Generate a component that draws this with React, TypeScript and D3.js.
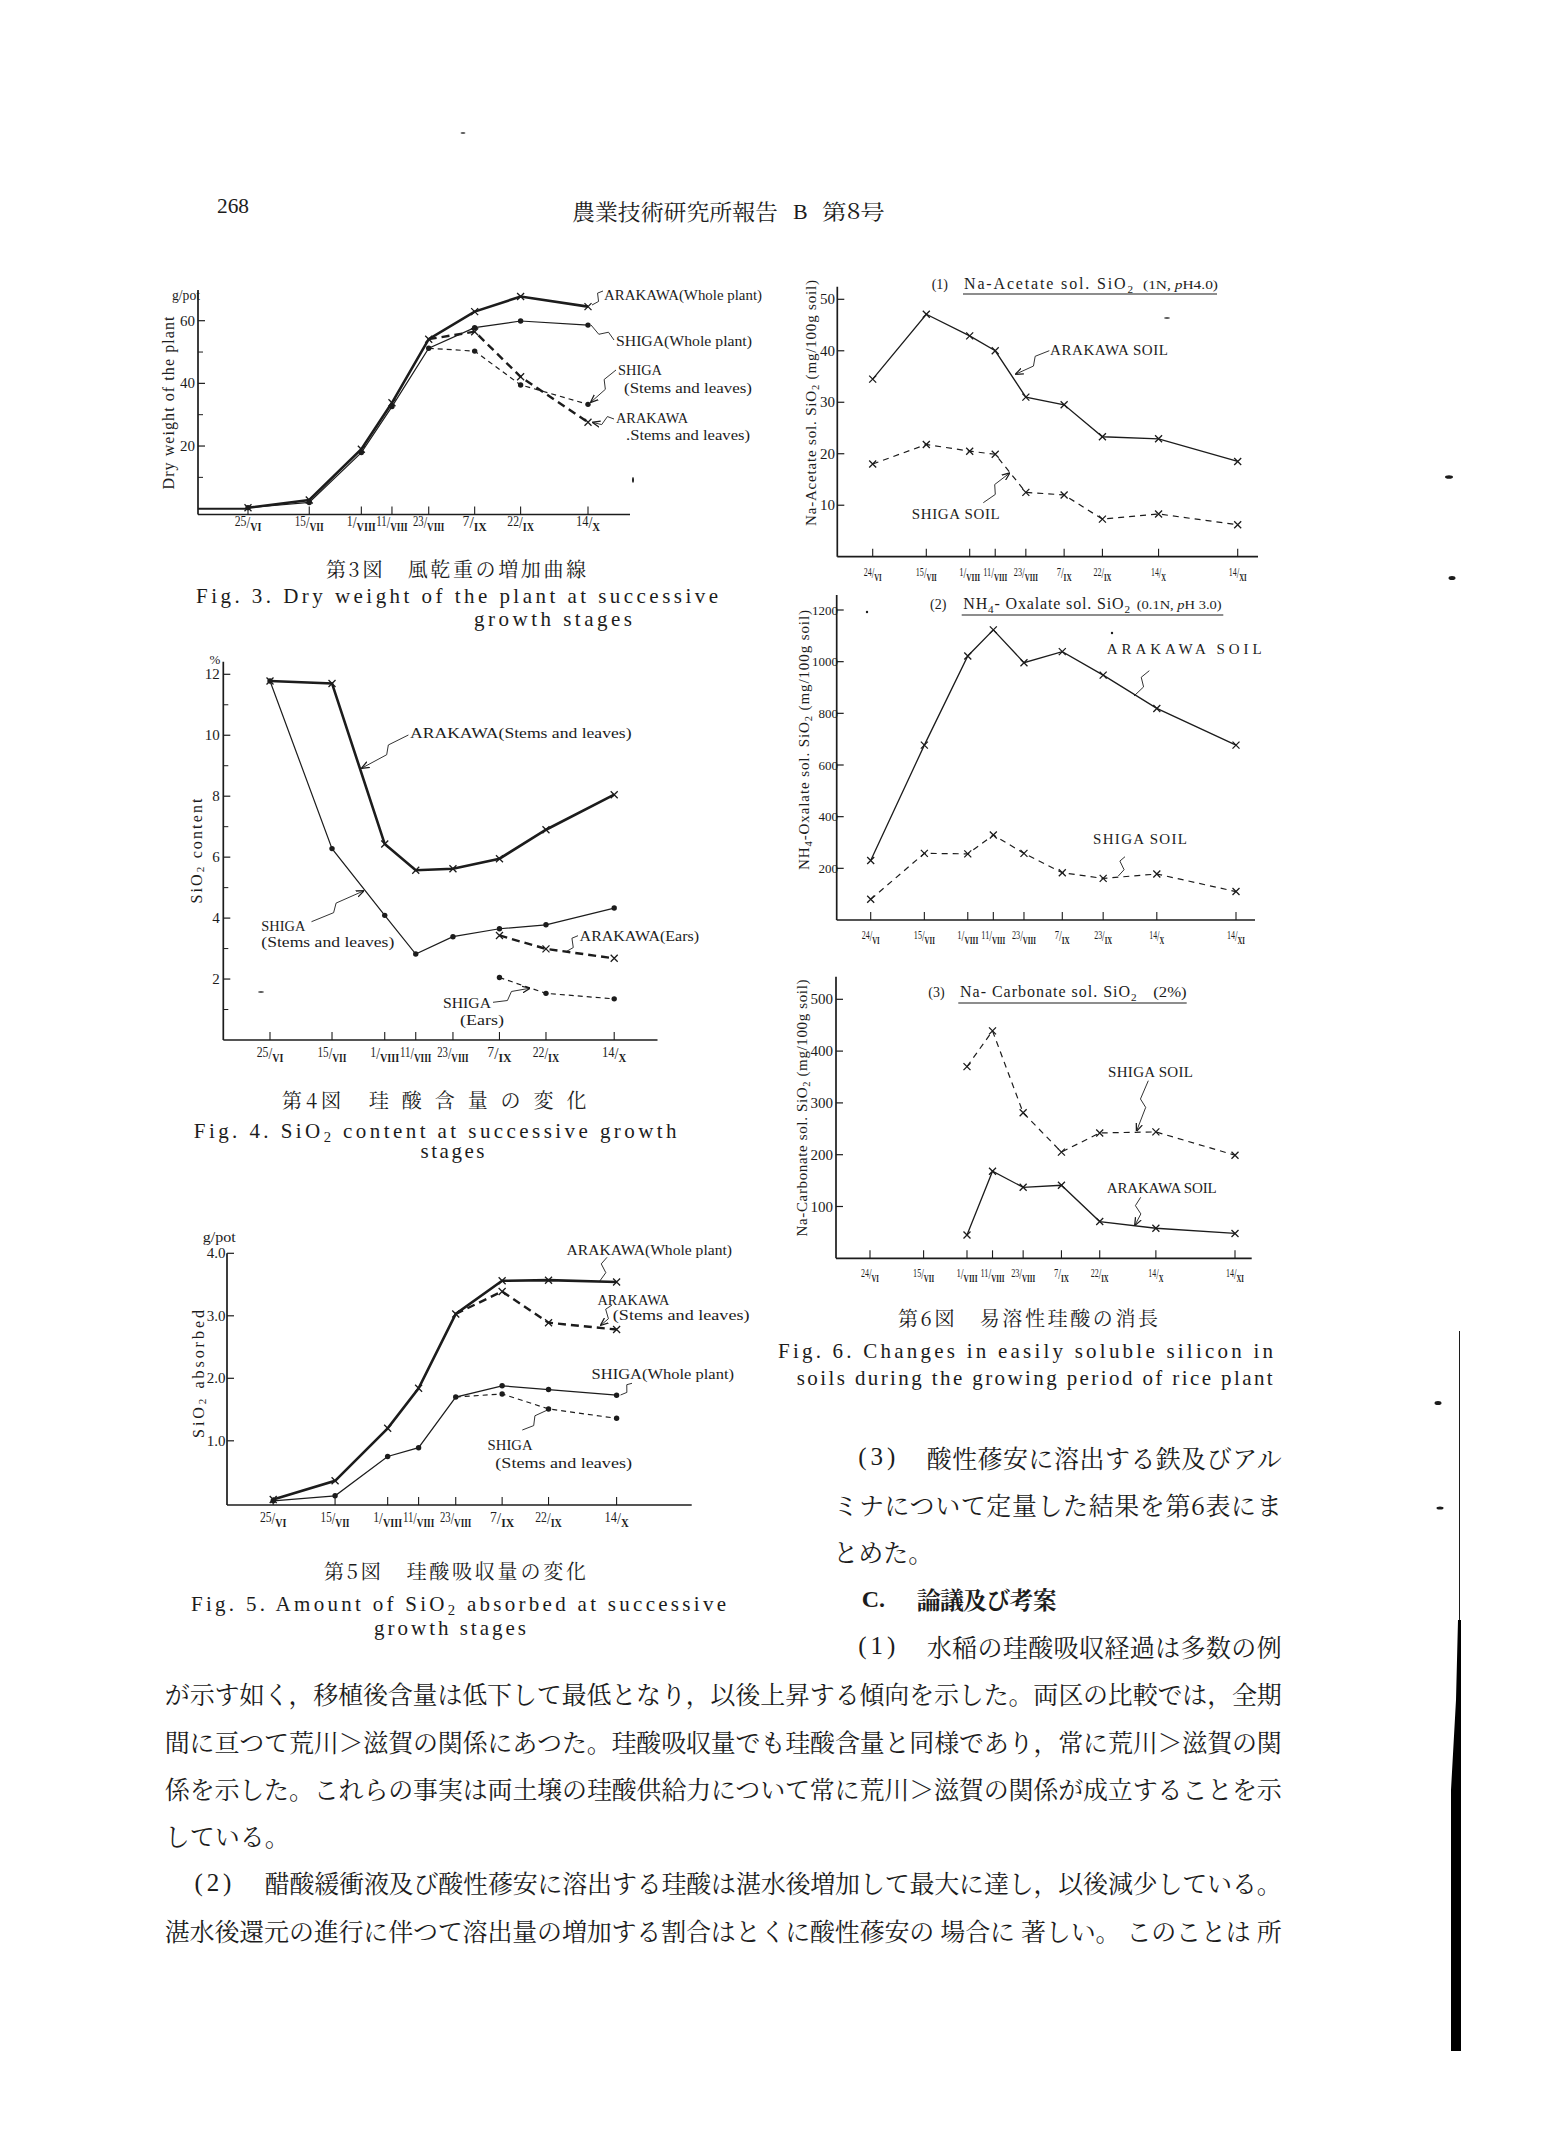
import React from "react";
import * as d3 from "d3";

const SERIF = '"Liberation Serif", "DejaVu Serif", serif';
const CJK = '"Noto Serif CJK JP", "Noto Sans CJK JP", "Noto Sans CJK SC", sans-serif';
const INK = "#1c1c1c";

const day = d3.timeParse("%d/%m/%Y");

// sampling dates of the plant (Fig. 3, 4, 5)
const plantDates = ["25/06/1954", "15/07/1954", "01/08/1954", "11/08/1954", "23/08/1954", "07/09/1954", "22/09/1954", "14/10/1954"];
const plantTicks = [["25", "VI"], ["15", "VII"], ["1", "VIII"], ["11", "VIII"], ["23", "VIII"], ["7", "IX"], ["22", "IX"], ["14", "X"]];

// Fig. 3 dry weight, g/pot
const f3ArakawaWhole = [0.3, 2.8, 19.0, 33.8, 54.1, 62.9, 67.7, 64.5];
const f3ShigaWhole = [0.3, 2.0, 17.9, 32.6, 51.2, 57.8, 59.9, 58.6];
const f3ShigaStems = [null, null, null, null, 51.2, 50.3, 39.5, 33.3];
const f3ArakawaStems = [null, null, null, null, 54.1, 56.5, 42.1, 27.6];
const f3Ticks = [20, 40, 60];
const f3Minor = [10, 30, 50];

// Fig. 4 SiO2 content, %
const f4ArakawaStems = [11.78, 11.7, 6.43, 5.57, 5.62, 5.95, 6.9, 8.05];
const f4ShigaStems = [11.78, 6.28, 4.09, 2.82, 3.39, 3.65, 3.78, 4.33];
const f4ArakawaEars = [null, null, null, null, null, 3.43, 2.99, 2.68];
const f4ShigaEars = [null, null, null, null, null, 2.05, 1.53, 1.35];
const f4Ticks = [2, 4, 6, 8, 10, 12];
const f4Minor = [1, 3, 5, 7, 9, 11];

// Fig. 5 SiO2 absorbed, g/pot
const f5ArakawaWhole = [0.06, 0.36, 1.2, 1.84, 3.03, 3.56, 3.57, 3.54];
const f5ArakawaStems = [null, null, null, null, 3.03, 3.39, 2.89, 2.78];
const f5ShigaWhole = [0.04, 0.12, 0.75, 0.89, 1.7, 1.88, 1.82, 1.73];
const f5ShigaStems = [null, null, null, null, 1.7, 1.75, 1.51, 1.36];
const f5Ticks = [1, 2, 3, 4];

// soil sampling dates (Fig. 6)
const soilDates = ["24/06/1954", "15/07/1954", "01/08/1954", "11/08/1954", "23/08/1954", "07/09/1954", "22/09/1954", "14/10/1954", "14/11/1954"];
const soilDates2 = ["24/06/1954", "15/07/1954", "01/08/1954", "11/08/1954", "23/08/1954", "07/09/1954", "23/09/1954", "14/10/1954", "14/11/1954"];
const soilTicks = [["24", "VI"], ["15", "VII"], ["1", "VIII"], ["11", "VIII"], ["23", "VIII"], ["7", "IX"], ["22", "IX"], ["14", "X"], ["14", "XI"]];
const soilTicks2 = [["24", "VI"], ["15", "VII"], ["1", "VIII"], ["11", "VIII"], ["23", "VIII"], ["7", "IX"], ["23", "IX"], ["14", "X"], ["14", "XI"]];

// (1) Na-acetate soluble SiO2, mg/100g soil
const f6aArakawa = [34.5, 47.1, 42.9, 40.0, 31.0, 29.5, 23.3, 22.9, 18.5];
const f6aShiga = [18.0, 21.8, 20.5, 19.9, 12.5, 12.0, 7.3, 8.3, 6.2];
const f6aTicks = [10, 20, 30, 40, 50];
// (2) NH4-oxalate soluble SiO2
const f6bArakawa = [230, 677, 1022, 1123, 996, 1039, 948, 819, 677];
const f6bShiga = [80, 258, 256, 329, 258, 183, 161, 178, 110];
const f6bTicks = [200, 400, 600, 800, 1000, 1200];
// (3) Na-carbonate soluble SiO2
const f6cShiga = [null, null, 370, 439, 281, 205, 242, 244, 199];
const f6cArakawa = [null, null, 45, 168, 137, 141, 71, 58, 48];
const f6cTicks = [100, 200, 300, 400, 500];

const STYLE: any = {
  thick: { w: 2.6, dash: undefined },
  thin: { w: 1.2, dash: undefined },
  thickDash: { w: 2.4, dash: "8 5" },
  thinDash: { w: 1.2, dash: "5 4" },
  soil: { w: 1.3, dash: undefined },
  soilDash: { w: 1.2, dash: "6 5" },
};

function T({ x, y, s = 15, len, a, f = SERIF, w, c, sp, children }: any) {
  return (
    <text
      x={x}
      y={y}
      fontSize={s}
      fontFamily={f}
      fontWeight={w}
      textAnchor={a}
      fill={INK}
      dominantBaseline={c ? "central" : undefined}
      textLength={len}
      lengthAdjust={len ? (sp ? "spacing" : "spacingAndGlyphs") : undefined}
    >
      {children}
    </text>
  );
}

function RT({ cx, cy, s = 16, len, children }: any) {
  return (
    <text
      transform={`translate(${cx},${cy}) rotate(-90)`}
      textAnchor="middle"
      dominantBaseline="central"
      fontSize={s}
      fontFamily={SERIF}
      fill={INK}
      textLength={len}
      lengthAdjust="spacing"
    >
      {children}
    </text>
  );
}

// alternating plain / subscript pieces: ["SiO", "2", " content"]
function chem(parts: string[]) {
  return parts.map((t, i) =>
    i % 2 === 1 ? (
      <tspan key={i} fontSize="70%" dy={4}>{t}</tspan>
    ) : (
      <tspan key={i} dy={i === 0 ? 0 : -4}>{t}</tspan>
    )
  );
}

function leader(x1: number, y1: number, x2: number, y2: number) {
  const dx = x2 - x1, dy = y2 - y1;
  const L = Math.hypot(dx, dy);
  const ux = dx / L, uy = dy / L, nx = -uy, ny = ux;
  const mx = x1 + dx * 0.45, my = y1 + dy * 0.45;
  const k = Math.min(3.5, L / 6);
  return `M${x1},${y1} L${mx - ux * k + nx * k},${my - uy * k + ny * k} L${mx + ux * k - nx * k},${my + uy * k - ny * k} L${x2},${y2}`;
}

function Lead({ p, arrow }: any) {
  return (
    <path
      d={leader(p[0], p[1], p[2], p[3])}
      fill="none"
      stroke={INK}
      strokeWidth={0.9}
      markerEnd={arrow ? "url(#arr)" : undefined}
    />
  );
}

function Panel(p: any) {
  const dates = p.dates.map((d: string) => day(d) as Date);
  const x = d3.scaleTime().domain([dates[0], dates[dates.length - 1]]).range(p.xPx);
  const y = d3.scaleLinear().domain([0, p.yRef]).range(p.yPx);
  const ax = p.axis;
  const fmt = p.fmt || ((v: number) => String(v));
  const ts = p.tickSize || 14;
  const lenOf = p.tickLen || ((n: string, r: string) => 17 + 2.4 * (n.length + r.length));
  return (
    <g>
      <line x1={ax.left} y1={ax.top} x2={ax.left} y2={ax.bottom} stroke={INK} strokeWidth={1.7} />
      <line x1={ax.left} y1={ax.bottom} x2={ax.right} y2={ax.bottom} stroke={INK} strokeWidth={1.7} />
      {p.zero && (
        <line x1={ax.left} y1={y(0)} x2={x(dates[0])} y2={y(0)} stroke={INK} strokeWidth={2} />
      )}
      {p.yTicks.map((v: number) => (
        <g key={"t" + v}>
          <line x1={ax.left} x2={ax.left + 7} y1={y(v)} y2={y(v)} stroke={INK} strokeWidth={1.2} />
          <T x={p.yLabelX} y={y(v)} s={p.yLabelSize || 15} a="end" c>
            {fmt(v)}
          </T>
        </g>
      ))}
      {(p.minor || []).map((v: number) => (
        <line key={"m" + v} x1={ax.left} x2={ax.left + 5} y1={y(v)} y2={y(v)} stroke={INK} strokeWidth={1} />
      ))}
      {dates.map((d: Date, i: number) => {
        const tx = x(d);
        const [n, r] = p.ticks[i];
        return (
          <g key={"x" + i}>
            <line x1={tx} x2={tx} y1={ax.bottom} y2={ax.bottom - 8} stroke={INK} strokeWidth={1.1} />
            <text
              x={tx}
              y={p.tickLabelY}
              textAnchor="middle"
              fontFamily={SERIF}
              fill={INK}
              fontSize={ts}
              textLength={lenOf(n, r)}
              lengthAdjust="spacingAndGlyphs"
            >
              <tspan dy={-5}>{n}</tspan>
              <tspan dy={2} fontSize={ts + 2}>/</tspan>
              <tspan dy={3} fontWeight="bold" fontSize={ts - 2}>{r}</tspan>
            </text>
          </g>
        );
      })}
      {p.series.map((s: any, si: number) => {
        const st = STYLE[s.style];
        const pts = dates.map((d: Date, i: number) => [d, s.values[i]] as [Date, number | null]);
        const line = d3
          .line<[Date, number | null]>()
          .defined((q) => q[1] != null)
          .x((q) => x(q[0]))
          .y((q) => y(q[1] as number));
        const shown = pts.filter((q, i) => q[1] != null && (s.from == null || i >= s.from));
        return (
          <g key={"s" + si}>
            <path d={line(pts) || ""} fill="none" stroke={INK} strokeWidth={st.w} strokeDasharray={st.dash} />
            {shown.map((q, i) => {
              const cx = x(q[0]);
              const cy = y(q[1] as number);
              return s.marker === "x" ? (
                <path
                  key={i}
                  d={`M${cx - 3.5},${cy - 3.5}L${cx + 3.5},${cy + 3.5}M${cx - 3.5},${cy + 3.5}L${cx + 3.5},${cy - 3.5}`}
                  stroke={INK}
                  strokeWidth={1.3}
                />
              ) : (
                <circle key={i} cx={cx} cy={cy} r={2.7} fill={INK} />
              );
            })}
          </g>
        );
      })}
    </g>
  );
}

const specks = [
  [463, 133, 2.5, 0.8],
  [633, 480, 1, 3],
  [261, 992, 3, 0.8],
  [1167, 318, 3, 0.8],
  [867, 612, 1.2, 1.2],
  [1112, 633, 1.2, 1.2],
  [1449, 477, 4, 1.8],
  [1452, 578, 3.5, 2],
  [1438, 1403, 3.5, 2],
  [1440, 1508, 3.5, 1.5],
];

const soilTickLen = (n: string, r: string) => 6 + 3 * (n.length + r.length);

export default function App() {
  const bodyLeft = 164.8;
  const bodyLen = 1117;
  return (
    <svg
      width={1547}
      height={2138}
      viewBox="0 0 1547 2138"
      style={{ position: "absolute", left: 0, top: 0, background: "#fff" }}
    >
      <defs>
        <marker id="arr" viewBox="0 0 10 10" refX={9} refY={5} markerWidth={8} markerHeight={8} markerUnits="userSpaceOnUse" orient="auto">
          <path d="M0,1 L10,5 L0,9" fill="none" stroke={INK} strokeWidth={1.6} />
        </marker>
      </defs>
      <rect width={1547} height={2138} fill="#fff" />

      {/* page header */}
      <T x={217} y={213} s={21} len={32}>268</T>
      <T x={572} y={210} s={22} f={CJK} c len={206}>農業技術研究所報告</T>
      <T x={793} y={219} s={22}>B</T>
      <T x={822} y={210} s={21} f={CJK} c len={63}>第8号</T>

      {/* Fig. 3 */}
      <Panel
        dates={plantDates}
        ticks={plantTicks}
        xPx={[248, 588]}
        yRef={60}
        yPx={[508.7, 320.7]}
        axis={{ left: 198, right: 630, top: 290, bottom: 514.5 }}
        yTicks={f3Ticks}
        minor={f3Minor}
        yLabelX={195}
        tickLabelY={531}
        zero
        series={[
          { values: f3ArakawaWhole, style: "thick", marker: "x" },
          { values: f3ShigaWhole, style: "thin", marker: "dot" },
          { values: f3ArakawaStems, style: "thickDash", marker: "x", from: 5 },
          { values: f3ShigaStems, style: "thinDash", marker: "dot", from: 5 },
        ]}
      />
      <T x={172} y={300} s={14} len={28}>g/pot</T>
      <RT cx={168} cy={403} s={16} len={173}>Dry weight of the plant</RT>
      <T x={604} y={300} s={15} len={158}>ARAKAWA(Whole plant)</T>
      <T x={616} y={346} s={15} len={136}>SHIGA(Whole plant)</T>
      <T x={618} y={375} s={15} len={44}>SHIGA</T>
      <T x={624} y={392.7} s={15} len={128}>(Stems and leaves)</T>
      <T x={616} y={423} s={15} len={72}>ARAKAWA</T>
      <T x={626} y={440} s={15} len={124}>.Stems and leaves)</T>
      <Lead p={[603, 291, 592, 305]} />
      <Lead p={[614, 340, 591, 325]} />
      <Lead p={[616, 370, 591, 402]} arrow />
      <Lead p={[614, 419, 593, 422.5]} arrow />
      <T x={326} y={568.3} s={20} f={CJK} c len={260} sp>第3図　風乾重の増加曲線</T>
      <T x={196} y={602.7} s={21} len={522} sp>Fig. 3.  Dry weight of the plant at successive</T>
      <T x={474} y={626} s={21} len={158} sp>growth stages</T>

      {/* Fig. 4 */}
      <Panel
        dates={plantDates}
        ticks={plantTicks}
        xPx={[270, 614.2]}
        yRef={12}
        yPx={[1040, 674.3]}
        axis={{ left: 223.3, right: 657.5, top: 661.7, bottom: 1040 }}
        yTicks={f4Ticks}
        minor={f4Minor}
        yLabelX={219.8}
        tickLabelY={1062}
        series={[
          { values: f4ArakawaStems, style: "thick", marker: "x" },
          { values: f4ShigaStems, style: "thin", marker: "dot" },
          { values: f4ArakawaEars, style: "thickDash", marker: "x" },
          { values: f4ShigaEars, style: "thinDash", marker: "dot" },
        ]}
      />
      <T x={209.4} y={664} s={13}>%</T>
      <RT cx={195.6} cy={851} s={16} len={105}>
        {chem(["SiO", "2", " content"])}
      </RT>
      <T x={410} y={737.7} s={15} len={221.5}>ARAKAWA(Stems and leaves)</T>
      <T x={261.3} y={931} s={15} len={44}>SHIGA</T>
      <T x={261.3} y={946.7} s={15} len={133}>(Stems and leaves)</T>
      <T x={579.6} y={941} s={15} len={119.4}>ARAKAWA(Ears)</T>
      <T x={443} y={1008} s={15} len={48}>SHIGA</T>
      <T x={460} y={1025} s={15} len={44}>(Ears)</T>
      <Lead p={[408.4, 735, 362, 768]} arrow />
      <Lead p={[311.5, 921.7, 363.4, 891]} arrow />
      <Lead p={[578, 935.7, 566, 951.7]} />
      <Lead p={[493, 1002.3, 529.5, 988.3]} arrow />
      <T x={282} y={1099.5} s={20} f={CJK} c len={304.5} sp>第4図　珪 酸 含 量 の 変 化</T>
      <T x={193.8} y={1137.7} s={21} len={482.7} sp>
        {chem(["Fig. 4.  SiO", "2", " content at successive growth"])}
      </T>
      <T x={420.5} y={1158} s={21} len={64} sp>stages</T>

      {/* Fig. 5 */}
      <Panel
        dates={plantDates}
        ticks={plantTicks}
        xPx={[273.2, 616.6]}
        yRef={4}
        yPx={[1503.3, 1253.3]}
        axis={{ left: 227, right: 691.7, top: 1253.3, bottom: 1505 }}
        yTicks={f5Ticks}
        fmt={d3.format(".1f")}
        yLabelX={225.5}
        tickLabelY={1527}
        series={[
          { values: f5ArakawaWhole, style: "thick", marker: "x" },
          { values: f5ArakawaStems, style: "thickDash", marker: "x", from: 5 },
          { values: f5ShigaWhole, style: "thin", marker: "dot" },
          { values: f5ShigaStems, style: "thinDash", marker: "dot", from: 5 },
        ]}
      />
      <T x={202.7} y={1241.7} s={14} len={33}>g/pot</T>
      <RT cx={197.7} cy={1374} s={16} len={128}>
        {chem(["SiO", "2", "  absorbed"])}
      </RT>
      <T x={566.5} y={1255} s={15} len={165.5}>ARAKAWA(Whole plant)</T>
      <T x={597.4} y={1305} s={15} len={72}>ARAKAWA</T>
      <T x={612.8} y={1320} s={15} len={136.7}>(Stems and leaves)</T>
      <T x={591.6} y={1379} s={15} len={142.4}>SHIGA(Whole plant)</T>
      <T x={487.6} y={1450} s={15} len={45}>SHIGA</T>
      <T x={495.3} y={1468} s={15} len={136.7}>(Stems and leaves)</T>
      <Lead p={[607, 1257.3, 599.3, 1281.7]} />
      <Lead p={[612, 1305, 601, 1325]} arrow />
      <Lead p={[632, 1383.3, 620.5, 1395]} />
      <Lead p={[522.3, 1430, 549, 1409.3]} />
      <T x={324} y={1570} s={20} f={CJK} c len={262} sp>第5図　珪酸吸収量の変化</T>
      <T x={191} y={1610.7} s={21} len={535} sp>
        {chem(["Fig. 5.  Amount of SiO", "2", " absorbed at successive"])}
      </T>
      <T x={374} y={1635} s={21} len={152} sp>growth stages</T>

      {/* Fig. 6 (1) */}
      <Panel
        dates={soilDates}
        ticks={soilTicks}
        xPx={[872.7, 1237.7]}
        yRef={50}
        yPx={[556.7, 299.3]}
        axis={{ left: 837.3, right: 1258, top: 286.7, bottom: 556.7 }}
        yTicks={f6aTicks}
        yLabelX={835}
        tickLabelY={581}
        tickSize={13}
        tickLen={soilTickLen}
        series={[
          { values: f6aArakawa, style: "soil", marker: "x" },
          { values: f6aShiga, style: "soilDash", marker: "x" },
        ]}
      />
      <RT cx={811} cy={403} s={15} len={246}>
        {chem(["Na-Acetate sol. SiO", "2", " (mg/100g soil)"])}
      </RT>
      <T x={931.7} y={289.3} s={14}>(1)</T>
      <T x={964} y={289.3} s={16} len={169} sp>
        {chem(["Na-Acetate  sol.  SiO", "2"])}
      </T>
      <T x={1143} y={289.3} s={12} len={75}>
        (1N, <tspan fontStyle="italic">p</tspan>H4.0)
      </T>
      <line x1={963} x2={1217} y1={294} y2={294} stroke={INK} strokeWidth={1.1} />
      <T x={1050} y={355} s={15} len={118} sp>ARAKAWA  SOIL</T>
      <T x={911.7} y={519.3} s={15} len={88} sp>SHIGA  SOIL</T>
      <Lead p={[1049.3, 350.7, 1016, 374]} arrow />
      <Lead p={[983.3, 502.7, 1009.3, 473.3]} arrow />

      {/* Fig. 6 (2) */}
      <Panel
        dates={soilDates2}
        ticks={soilTicks2}
        xPx={[870.7, 1236]}
        yRef={1200}
        yPx={[920, 610]}
        axis={{ left: 836.7, right: 1255, top: 595, bottom: 920 }}
        yTicks={f6bTicks}
        yLabelX={838}
        yLabelSize={13}
        tickLabelY={944}
        tickSize={13}
        tickLen={soilTickLen}
        series={[
          { values: f6bArakawa, style: "soil", marker: "x" },
          { values: f6bShiga, style: "soilDash", marker: "x" },
        ]}
      />
      <RT cx={804} cy={740} s={15} len={260}>
        {chem(["NH", "4", "-Oxalate sol. SiO", "2", " (mg/100g soil)"])}
      </RT>
      <T x={930} y={609.3} s={14}>(2)</T>
      <T x={963.3} y={609.3} s={16} len={166.7} sp>
        {chem(["NH", "4", "- Oxalate  sol.  SiO", "2"])}
      </T>
      <T x={1136.7} y={609.3} s={12} len={85}>
        (0.1N, <tspan fontStyle="italic">p</tspan>H 3.0)
      </T>
      <line x1={961.7} x2={1223.3} y1={615} y2={615} stroke={INK} strokeWidth={1.1} />
      <T x={1106.7} y={654} s={15} len={155} sp>ARAKAWA    SOIL</T>
      <T x={1093} y={844} s={15} len={94} sp>SHIGA  SOIL</T>
      <Lead p={[1149.3, 670.7, 1134, 696]} />
      <Lead p={[1125, 856.7, 1118.3, 876]} />

      {/* Fig. 6 (3) */}
      <Panel
        dates={soilDates}
        ticks={soilTicks}
        xPx={[870, 1235]}
        yRef={500}
        yPx={[1258.3, 999.3]}
        axis={{ left: 836, right: 1251.7, top: 976.7, bottom: 1258.3 }}
        yTicks={f6cTicks}
        yLabelX={833}
        tickLabelY={1282}
        tickSize={13}
        tickLen={soilTickLen}
        series={[
          { values: f6cShiga, style: "soilDash", marker: "x" },
          { values: f6cArakawa, style: "soil", marker: "x" },
        ]}
      />
      <RT cx={802} cy={1108} s={15} len={257}>
        {chem(["Na-Carbonate sol. SiO", "2", " (mg/100g soil)"])}
      </RT>
      <T x={928.3} y={997.3} s={14}>(3)</T>
      <T x={960} y={997.3} s={16} len={176.7} sp>
        {chem(["Na- Carbonate  sol.  SiO", "2"])}
      </T>
      <T x={1153.3} y={997.3} s={14} len={33.4}>(2%)</T>
      <line x1={958.3} x2={1186.7} y1={1003} y2={1003} stroke={INK} strokeWidth={1.1} />
      <T x={1108} y={1076.7} s={15} len={85} sp>SHIGA  SOIL</T>
      <T x={1106.7} y={1193} s={15} len={110} sp>ARAKAWA  SOIL</T>
      <Lead p={[1148.3, 1080.7, 1136.7, 1130.7]} arrow />
      <Lead p={[1140.7, 1197.3, 1135, 1225]} arrow />
      <T x={898} y={1317.5} s={20} f={CJK} c len={260} sp>第6図　易溶性珪酸の消長</T>
      <T x={778} y={1358} s={21} len={495} sp>Fig. 6.  Changes in easily soluble silicon in</T>
      <T x={796.7} y={1385} s={21} len={476} sp>soils during the growing period of rice plant</T>

      {/* body text, right column */}
      <T x={858.3} y={1456.7} s={25} c len={37} sp>(3)</T>
      <T x={926.7} y={1456.7} s={25} f={CJK} c len={355} sp>酸性蓚安に溶出する鉄及びアル</T>
      <T x={833.3} y={1504} s={25} f={CJK} c len={448.4} sp>ミナについて定量した結果を第6表にま</T>
      <T x={833.3} y={1551.3} s={25} f={CJK} c>とめた。</T>
      <T x={861.7} y={1598.6} s={24} w="bold" c>C.</T>
      <T x={916.7} y={1598.6} s={24} f={CJK} w="bold" c len={140} sp>論議及び考案</T>
      <T x={858.3} y={1645.9} s={25} c len={37} sp>(1)</T>
      <T x={926.7} y={1645.9} s={25} f={CJK} c len={355} sp>水稲の珪酸吸収経過は多数の例</T>

      {/* body text, full width */}
      <T x={bodyLeft} y={1693.2} s={25} f={CJK} c len={bodyLen} sp>
        が示す如く，移植後含量は低下して最低となり，以後上昇する傾向を示した。両区の比較では，全期
      </T>
      <T x={bodyLeft} y={1740.5} s={25} f={CJK} c len={bodyLen} sp>
        間に亘つて荒川＞滋賀の関係にあつた。珪酸吸収量でも珪酸含量と同様であり，常に荒川＞滋賀の関
      </T>
      <T x={bodyLeft} y={1787.8} s={25} f={CJK} c len={bodyLen} sp>
        係を示した。これらの事実は両土壌の珪酸供給力について常に荒川＞滋賀の関係が成立することを示
      </T>
      <T x={bodyLeft} y={1835.1} s={25} f={CJK} c>している。</T>
      <T x={194.4} y={1882.4} s={25} c len={37} sp>(2)</T>
      <T x={264.7} y={1882.4} s={25} f={CJK} c len={1017} sp>
        醋酸緩衝液及び酸性蓚安に溶出する珪酸は湛水後増加して最大に達し，以後減少している。
      </T>
      <T x={bodyLeft} y={1929.7} s={25} f={CJK} c len={bodyLen} sp>
        湛水後還元の進行に伴つて溶出量の増加する割合はとくに酸性蓚安の 場合に 著しい。 このことは 所
      </T>

      {/* scan marks at the right edge */}
      {specks.map((s, i) => (
        <ellipse key={i} cx={s[0]} cy={s[1]} rx={s[2]} ry={s[3]} fill={INK} />
      ))}
      <line x1={1459.5} x2={1459.5} y1={1331} y2={1620} stroke={INK} strokeWidth={1} />
      <polygon points="1458,1620 1461,1620 1461,2051 1451,2051 1451,1790 1456,1700" fill="#000" />
    </svg>
  );
}
